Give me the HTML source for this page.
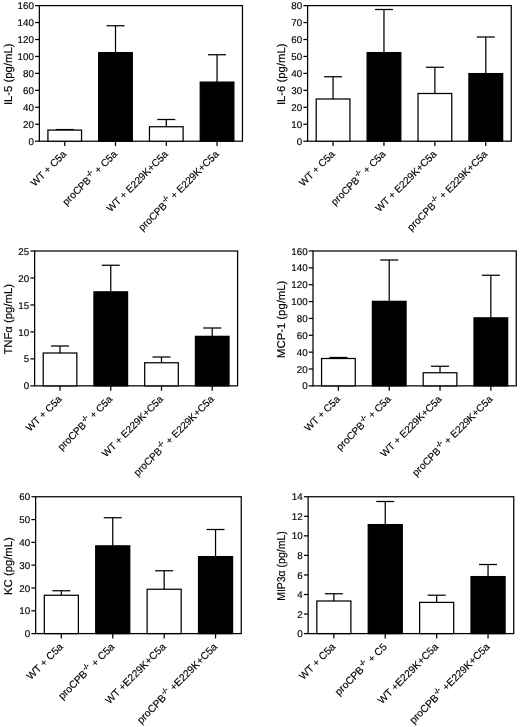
<!DOCTYPE html>
<html lang="en">
<head>
<meta charset="utf-8">
<title>Cytokine levels</title>
<style>
html,body{margin:0;padding:0;background:#fff;}
body{width:520px;height:727px;overflow:hidden;}
svg{display:block;filter:grayscale(1) blur(0.3px);}
text{font-family:"Liberation Sans",sans-serif;fill:#000;stroke:#000;stroke-width:0.15px;text-rendering:geometricPrecision;}
.tk{font-size:9.8px;text-anchor:end;}
.xl{font-size:10.1px;text-anchor:end;}
.yl{font-size:11.3px;text-anchor:middle;}
.sup{font-size:6.8px;stroke-width:0.35px;}
.ln{stroke:#000;stroke-width:1.25;fill:none;stroke-linecap:butt;}
.wb{fill:#fff;stroke:#000;stroke-width:1.25;}
.bb{fill:#000;stroke:#000;stroke-width:1.25;}
</style>
</head>
<body>
<svg width="520" height="727" viewBox="0 0 520 727">
<rect x="0" y="0" width="520" height="727" fill="#fff"/>
<g>
<rect class="ln" x="39.35" y="5.6" width="203.1" height="135.6"/>
<line class="ln" x1="35.1" y1="141.2" x2="39.35" y2="141.2"/>
<text class="tk" x="33.95" y="144.8">0</text>
<line class="ln" x1="35.1" y1="124.25" x2="39.35" y2="124.25"/>
<text class="tk" x="33.95" y="127.85">20</text>
<line class="ln" x1="35.1" y1="107.3" x2="39.35" y2="107.3"/>
<text class="tk" x="33.95" y="110.9">40</text>
<line class="ln" x1="35.1" y1="90.35" x2="39.35" y2="90.35"/>
<text class="tk" x="33.95" y="93.95">60</text>
<line class="ln" x1="35.1" y1="73.4" x2="39.35" y2="73.4"/>
<text class="tk" x="33.95" y="77">80</text>
<line class="ln" x1="35.1" y1="56.45" x2="39.35" y2="56.45"/>
<text class="tk" x="33.95" y="60.05">100</text>
<line class="ln" x1="35.1" y1="39.5" x2="39.35" y2="39.5"/>
<text class="tk" x="33.95" y="43.1">120</text>
<line class="ln" x1="35.1" y1="22.55" x2="39.35" y2="22.55"/>
<text class="tk" x="33.95" y="26.15">140</text>
<line class="ln" x1="35.1" y1="5.6" x2="39.35" y2="5.6"/>
<text class="tk" x="33.95" y="9.2">160</text>
<text class="yl" transform="translate(11.6,74.3) rotate(-90) scale(1,1)">IL-5 (pg/mL)</text>
<line class="ln" x1="64.74" y1="129.55" x2="64.74" y2="130.1"/>
<line class="ln" x1="55.74" y1="129.55" x2="73.74" y2="129.55"/>
<rect class="wb" x="47.92" y="130.1" width="33.63" height="11.1"/>
<line class="ln" x1="64.74" y1="141.2" x2="64.74" y2="146.05"/>
<text class="xl" xml:space="preserve" style="font-size:10.1px" transform="translate(67.04,154.7) rotate(-45)">WT + C5a</text>
<line class="ln" x1="115.51" y1="25.75" x2="115.51" y2="52.6"/>
<line class="ln" x1="106.51" y1="25.75" x2="124.51" y2="25.75"/>
<rect class="bb" x="98.7" y="52.6" width="33.63" height="88.6"/>
<line class="ln" x1="115.51" y1="141.2" x2="115.51" y2="146.05"/>
<text class="xl" xml:space="preserve" style="font-size:10.1px" transform="translate(117.81,154.7) rotate(-45)">proCPB<tspan class="sup" dx="0.6" dy="-4.8">-/-</tspan><tspan dx="0" dy="4.8"> + C5a</tspan></text>
<line class="ln" x1="166.29" y1="119.5" x2="166.29" y2="126.75"/>
<line class="ln" x1="157.29" y1="119.5" x2="175.29" y2="119.5"/>
<rect class="wb" x="149.47" y="126.75" width="33.63" height="14.45"/>
<line class="ln" x1="166.29" y1="141.2" x2="166.29" y2="146.05"/>
<text class="xl" xml:space="preserve" style="font-size:10.1px" transform="translate(168.59,154.7) rotate(-45)">WT + E229K+C5a</text>
<line class="ln" x1="217.06" y1="54.75" x2="217.06" y2="82.1"/>
<line class="ln" x1="208.06" y1="54.75" x2="226.06" y2="54.75"/>
<rect class="bb" x="200.25" y="82.1" width="33.63" height="59.1"/>
<line class="ln" x1="217.06" y1="141.2" x2="217.06" y2="146.05"/>
<text class="xl" xml:space="preserve" style="font-size:10.1px" transform="translate(219.36,154.7) rotate(-45)">proCPB<tspan class="sup" dx="0.6" dy="-4.8">-/-</tspan><tspan dx="0" dy="4.8"> + E229K+C5a</tspan></text>
</g>
<g>
<rect class="ln" x="307.6" y="5.6" width="203.65" height="135.6"/>
<line class="ln" x1="303.35" y1="141.2" x2="307.6" y2="141.2"/>
<text class="tk" x="302.2" y="144.8">0</text>
<line class="ln" x1="303.35" y1="124.25" x2="307.6" y2="124.25"/>
<text class="tk" x="302.2" y="127.85">10</text>
<line class="ln" x1="303.35" y1="107.3" x2="307.6" y2="107.3"/>
<text class="tk" x="302.2" y="110.9">20</text>
<line class="ln" x1="303.35" y1="90.35" x2="307.6" y2="90.35"/>
<text class="tk" x="302.2" y="93.95">30</text>
<line class="ln" x1="303.35" y1="73.4" x2="307.6" y2="73.4"/>
<text class="tk" x="302.2" y="77">40</text>
<line class="ln" x1="303.35" y1="56.45" x2="307.6" y2="56.45"/>
<text class="tk" x="302.2" y="60.05">50</text>
<line class="ln" x1="303.35" y1="39.5" x2="307.6" y2="39.5"/>
<text class="tk" x="302.2" y="43.1">60</text>
<line class="ln" x1="303.35" y1="22.55" x2="307.6" y2="22.55"/>
<text class="tk" x="302.2" y="26.15">70</text>
<line class="ln" x1="303.35" y1="5.6" x2="307.6" y2="5.6"/>
<text class="tk" x="302.2" y="9.2">80</text>
<text class="yl" transform="translate(285,74.3) rotate(-90) scale(1,1)">IL-6 (pg/mL)</text>
<line class="ln" x1="333.06" y1="76.75" x2="333.06" y2="99"/>
<line class="ln" x1="324.06" y1="76.75" x2="342.06" y2="76.75"/>
<rect class="wb" x="316.19" y="99" width="33.73" height="42.2"/>
<line class="ln" x1="333.06" y1="141.2" x2="333.06" y2="146.05"/>
<text class="xl" xml:space="preserve" style="font-size:10.1px" transform="translate(335.36,154.7) rotate(-45)">WT + C5a</text>
<line class="ln" x1="383.97" y1="9.5" x2="383.97" y2="52.6"/>
<line class="ln" x1="374.97" y1="9.5" x2="392.97" y2="9.5"/>
<rect class="bb" x="367.11" y="52.6" width="33.73" height="88.6"/>
<line class="ln" x1="383.97" y1="141.2" x2="383.97" y2="146.05"/>
<text class="xl" xml:space="preserve" style="font-size:10.1px" transform="translate(386.27,154.7) rotate(-45)">proCPB<tspan class="sup" dx="0.6" dy="-4.8">-/-</tspan><tspan dx="0" dy="4.8"> + C5a</tspan></text>
<line class="ln" x1="434.88" y1="67.25" x2="434.88" y2="93.5"/>
<line class="ln" x1="425.88" y1="67.25" x2="443.88" y2="67.25"/>
<rect class="wb" x="418.02" y="93.5" width="33.73" height="47.7"/>
<line class="ln" x1="434.88" y1="141.2" x2="434.88" y2="146.05"/>
<text class="xl" xml:space="preserve" style="font-size:10.1px" transform="translate(437.18,154.7) rotate(-45)">WT + E229K+C5a</text>
<line class="ln" x1="485.79" y1="37" x2="485.79" y2="73.6"/>
<line class="ln" x1="476.79" y1="37" x2="494.79" y2="37"/>
<rect class="bb" x="468.93" y="73.6" width="33.73" height="67.6"/>
<line class="ln" x1="485.79" y1="141.2" x2="485.79" y2="146.05"/>
<text class="xl" xml:space="preserve" style="font-size:10.1px" transform="translate(488.09,154.7) rotate(-45)">proCPB<tspan class="sup" dx="0.6" dy="-4.8">-/-</tspan><tspan dx="0" dy="4.8"> + E229K+C5a</tspan></text>
</g>
<g>
<rect class="ln" x="34.65" y="251" width="202.95" height="134.85"/>
<line class="ln" x1="30.4" y1="385.85" x2="34.65" y2="385.85"/>
<text class="tk" x="29.25" y="389.45">0</text>
<line class="ln" x1="30.4" y1="358.88" x2="34.65" y2="358.88"/>
<text class="tk" x="29.25" y="362.48">5</text>
<line class="ln" x1="30.4" y1="331.91" x2="34.65" y2="331.91"/>
<text class="tk" x="29.25" y="335.51">10</text>
<line class="ln" x1="30.4" y1="304.94" x2="34.65" y2="304.94"/>
<text class="tk" x="29.25" y="308.54">15</text>
<line class="ln" x1="30.4" y1="277.97" x2="34.65" y2="277.97"/>
<text class="tk" x="29.25" y="281.57">20</text>
<line class="ln" x1="30.4" y1="251" x2="34.65" y2="251"/>
<text class="tk" x="29.25" y="254.6">25</text>
<text class="yl" transform="translate(11.6,319.32) rotate(-90) scale(1,1)">TNFα (pg/mL)</text>
<line class="ln" x1="60.02" y1="346" x2="60.02" y2="353"/>
<line class="ln" x1="51.02" y1="346" x2="69.02" y2="346"/>
<rect class="wb" x="43.22" y="353" width="33.61" height="32.85"/>
<line class="ln" x1="60.02" y1="385.85" x2="60.02" y2="390.7"/>
<text class="xl" xml:space="preserve" style="font-size:10.1px" transform="translate(62.32,399.85) rotate(-45)">WT + C5a</text>
<line class="ln" x1="110.76" y1="265.25" x2="110.76" y2="291.85"/>
<line class="ln" x1="101.76" y1="265.25" x2="119.76" y2="265.25"/>
<rect class="bb" x="93.95" y="291.85" width="33.61" height="94"/>
<line class="ln" x1="110.76" y1="385.85" x2="110.76" y2="390.7"/>
<text class="xl" xml:space="preserve" style="font-size:10.1px" transform="translate(113.06,399.85) rotate(-45)">proCPB<tspan class="sup" dx="0.6" dy="-4.8">-/-</tspan><tspan dx="0" dy="4.8"> + C5a</tspan></text>
<line class="ln" x1="161.49" y1="357" x2="161.49" y2="362.75"/>
<line class="ln" x1="152.49" y1="357" x2="170.49" y2="357"/>
<rect class="wb" x="144.69" y="362.75" width="33.61" height="23.1"/>
<line class="ln" x1="161.49" y1="385.85" x2="161.49" y2="390.7"/>
<text class="xl" xml:space="preserve" style="font-size:10.1px" transform="translate(163.79,399.85) rotate(-45)">WT + E229K+C5a</text>
<line class="ln" x1="212.23" y1="328" x2="212.23" y2="336.35"/>
<line class="ln" x1="203.23" y1="328" x2="221.23" y2="328"/>
<rect class="bb" x="195.43" y="336.35" width="33.61" height="49.5"/>
<line class="ln" x1="212.23" y1="385.85" x2="212.23" y2="390.7"/>
<text class="xl" xml:space="preserve" style="font-size:10.1px" transform="translate(214.53,399.85) rotate(-45)">proCPB<tspan class="sup" dx="0.6" dy="-4.8">-/-</tspan><tspan dx="0" dy="4.8"> + E229K+C5a</tspan></text>
</g>
<g>
<rect class="ln" x="313" y="251" width="203.25" height="134.85"/>
<line class="ln" x1="308.75" y1="385.85" x2="313" y2="385.85"/>
<text class="tk" x="307.6" y="389.45">0</text>
<line class="ln" x1="308.75" y1="368.99" x2="313" y2="368.99"/>
<text class="tk" x="307.6" y="372.59">20</text>
<line class="ln" x1="308.75" y1="352.14" x2="313" y2="352.14"/>
<text class="tk" x="307.6" y="355.74">40</text>
<line class="ln" x1="308.75" y1="335.28" x2="313" y2="335.28"/>
<text class="tk" x="307.6" y="338.88">60</text>
<line class="ln" x1="308.75" y1="318.43" x2="313" y2="318.43"/>
<text class="tk" x="307.6" y="322.03">80</text>
<line class="ln" x1="308.75" y1="301.57" x2="313" y2="301.57"/>
<text class="tk" x="307.6" y="305.17">100</text>
<line class="ln" x1="308.75" y1="284.71" x2="313" y2="284.71"/>
<text class="tk" x="307.6" y="288.31">120</text>
<line class="ln" x1="308.75" y1="267.86" x2="313" y2="267.86"/>
<text class="tk" x="307.6" y="271.46">140</text>
<line class="ln" x1="308.75" y1="251" x2="313" y2="251"/>
<text class="tk" x="307.6" y="254.6">160</text>
<text class="yl" transform="translate(284.8,319.32) rotate(-90) scale(1,1)">MCP-1 (pg/mL)</text>
<line class="ln" x1="338.41" y1="357.5" x2="338.41" y2="358.5"/>
<line class="ln" x1="329.41" y1="357.5" x2="347.41" y2="357.5"/>
<rect class="wb" x="321.58" y="358.5" width="33.66" height="27.35"/>
<line class="ln" x1="338.41" y1="385.85" x2="338.41" y2="390.7"/>
<text class="xl" xml:space="preserve" style="font-size:10.1px" transform="translate(340.71,399.85) rotate(-45)">WT + C5a</text>
<line class="ln" x1="389.22" y1="260" x2="389.22" y2="301.35"/>
<line class="ln" x1="380.22" y1="260" x2="398.22" y2="260"/>
<rect class="bb" x="372.39" y="301.35" width="33.66" height="84.5"/>
<line class="ln" x1="389.22" y1="385.85" x2="389.22" y2="390.7"/>
<text class="xl" xml:space="preserve" style="font-size:10.1px" transform="translate(391.52,399.85) rotate(-45)">proCPB<tspan class="sup" dx="0.6" dy="-4.8">-/-</tspan><tspan dx="0" dy="4.8"> + C5a</tspan></text>
<line class="ln" x1="440.03" y1="366.25" x2="440.03" y2="372.75"/>
<line class="ln" x1="431.03" y1="366.25" x2="449.03" y2="366.25"/>
<rect class="wb" x="423.2" y="372.75" width="33.66" height="13.1"/>
<line class="ln" x1="440.03" y1="385.85" x2="440.03" y2="390.7"/>
<text class="xl" xml:space="preserve" style="font-size:10.1px" transform="translate(442.33,399.85) rotate(-45)">WT + E229K+C5a</text>
<line class="ln" x1="490.84" y1="275.25" x2="490.84" y2="317.85"/>
<line class="ln" x1="481.84" y1="275.25" x2="499.84" y2="275.25"/>
<rect class="bb" x="474.01" y="317.85" width="33.66" height="68"/>
<line class="ln" x1="490.84" y1="385.85" x2="490.84" y2="390.7"/>
<text class="xl" xml:space="preserve" style="font-size:10.1px" transform="translate(493.14,399.85) rotate(-45)">proCPB<tspan class="sup" dx="0.6" dy="-4.8">-/-</tspan><tspan dx="0" dy="4.8"> + E229K+C5a</tspan></text>
</g>
<g>
<rect class="ln" x="35.65" y="496.75" width="205.6" height="136.85"/>
<line class="ln" x1="31.4" y1="633.6" x2="35.65" y2="633.6"/>
<text class="tk" x="30.25" y="637.2">0</text>
<line class="ln" x1="31.4" y1="610.79" x2="35.65" y2="610.79"/>
<text class="tk" x="30.25" y="614.39">10</text>
<line class="ln" x1="31.4" y1="587.98" x2="35.65" y2="587.98"/>
<text class="tk" x="30.25" y="591.58">20</text>
<line class="ln" x1="31.4" y1="565.17" x2="35.65" y2="565.17"/>
<text class="tk" x="30.25" y="568.77">30</text>
<line class="ln" x1="31.4" y1="542.37" x2="35.65" y2="542.37"/>
<text class="tk" x="30.25" y="545.97">40</text>
<line class="ln" x1="31.4" y1="519.56" x2="35.65" y2="519.56"/>
<text class="tk" x="30.25" y="523.16">50</text>
<line class="ln" x1="31.4" y1="496.75" x2="35.65" y2="496.75"/>
<text class="tk" x="30.25" y="500.35">60</text>
<text class="yl" transform="translate(11.6,566.07) rotate(-90) scale(1,1)">KC (pg/mL)</text>
<line class="ln" x1="61.35" y1="590.75" x2="61.35" y2="595.25"/>
<line class="ln" x1="52.35" y1="590.75" x2="70.35" y2="590.75"/>
<rect class="wb" x="44.32" y="595.25" width="34.06" height="38.35"/>
<line class="ln" x1="61.35" y1="633.6" x2="61.35" y2="638.45"/>
<text class="xl" xml:space="preserve" style="font-size:10.3px" transform="translate(63.65,647.5) rotate(-45)">WT + C5a</text>
<line class="ln" x1="112.75" y1="517.75" x2="112.75" y2="545.85"/>
<line class="ln" x1="103.75" y1="517.75" x2="121.75" y2="517.75"/>
<rect class="bb" x="95.72" y="545.85" width="34.06" height="87.75"/>
<line class="ln" x1="112.75" y1="633.6" x2="112.75" y2="638.45"/>
<text class="xl" xml:space="preserve" style="font-size:10.3px" transform="translate(115.05,647.5) rotate(-45)">proCPB<tspan class="sup" dx="0.8" dy="-4.8">-/-</tspan><tspan dx="0.5" dy="4.8"> + C5a</tspan></text>
<line class="ln" x1="164.15" y1="570.75" x2="164.15" y2="589.25"/>
<line class="ln" x1="155.15" y1="570.75" x2="173.15" y2="570.75"/>
<rect class="wb" x="147.12" y="589.25" width="34.06" height="44.35"/>
<line class="ln" x1="164.15" y1="633.6" x2="164.15" y2="638.45"/>
<text class="xl" xml:space="preserve" style="font-size:10.3px" transform="translate(166.45,647.5) rotate(-45)">WT +E229K+C5a</text>
<line class="ln" x1="215.55" y1="529.5" x2="215.55" y2="556.6"/>
<line class="ln" x1="206.55" y1="529.5" x2="224.55" y2="529.5"/>
<rect class="bb" x="198.52" y="556.6" width="34.06" height="77"/>
<line class="ln" x1="215.55" y1="633.6" x2="215.55" y2="638.45"/>
<text class="xl" xml:space="preserve" style="font-size:10.3px" transform="translate(217.85,647.5) rotate(-45)">proCPB<tspan class="sup" dx="0.8" dy="-4.8">-/-</tspan><tspan dx="0.5" dy="4.8"> +E229K+C5a</tspan></text>
</g>
<g>
<rect class="ln" x="308.15" y="496.75" width="205.6" height="136.85"/>
<line class="ln" x1="303.9" y1="633.6" x2="308.15" y2="633.6"/>
<text class="tk" x="302.75" y="637.2">0</text>
<line class="ln" x1="303.9" y1="614.05" x2="308.15" y2="614.05"/>
<text class="tk" x="302.75" y="617.65">2</text>
<line class="ln" x1="303.9" y1="594.5" x2="308.15" y2="594.5"/>
<text class="tk" x="302.75" y="598.1">4</text>
<line class="ln" x1="303.9" y1="574.95" x2="308.15" y2="574.95"/>
<text class="tk" x="302.75" y="578.55">6</text>
<line class="ln" x1="303.9" y1="555.4" x2="308.15" y2="555.4"/>
<text class="tk" x="302.75" y="559">8</text>
<line class="ln" x1="303.9" y1="535.85" x2="308.15" y2="535.85"/>
<text class="tk" x="302.75" y="539.45">10</text>
<line class="ln" x1="303.9" y1="516.3" x2="308.15" y2="516.3"/>
<text class="tk" x="302.75" y="519.9">12</text>
<line class="ln" x1="303.9" y1="496.75" x2="308.15" y2="496.75"/>
<text class="tk" x="302.75" y="500.35">14</text>
<text class="yl" transform="translate(284.6,566.07) rotate(-90) scale(0.928,1)">MIP3α (pg/mL)</text>
<line class="ln" x1="333.85" y1="593.75" x2="333.85" y2="601"/>
<line class="ln" x1="324.85" y1="593.75" x2="342.85" y2="593.75"/>
<rect class="wb" x="316.82" y="601" width="34.06" height="32.6"/>
<line class="ln" x1="333.85" y1="633.6" x2="333.85" y2="638.45"/>
<text class="xl" xml:space="preserve" style="font-size:10.3px" transform="translate(336.15,647.5) rotate(-45)">WT + C5a</text>
<line class="ln" x1="385.25" y1="501.5" x2="385.25" y2="524.6"/>
<line class="ln" x1="376.25" y1="501.5" x2="394.25" y2="501.5"/>
<rect class="bb" x="368.22" y="524.6" width="34.06" height="109"/>
<line class="ln" x1="385.25" y1="633.6" x2="385.25" y2="638.45"/>
<text class="xl" xml:space="preserve" style="font-size:10.3px" transform="translate(387.55,647.5) rotate(-45)">proCPB<tspan class="sup" dx="0.8" dy="-4.8">-/-</tspan><tspan dx="0.5" dy="4.8"> + C5</tspan></text>
<line class="ln" x1="436.65" y1="595.2" x2="436.65" y2="602.4"/>
<line class="ln" x1="427.65" y1="595.2" x2="445.65" y2="595.2"/>
<rect class="wb" x="419.62" y="602.4" width="34.06" height="31.2"/>
<line class="ln" x1="436.65" y1="633.6" x2="436.65" y2="638.45"/>
<text class="xl" xml:space="preserve" style="font-size:10.3px" transform="translate(438.95,647.5) rotate(-45)">WT +E229K+C5a</text>
<line class="ln" x1="488.05" y1="564.5" x2="488.05" y2="576.6"/>
<line class="ln" x1="479.05" y1="564.5" x2="497.05" y2="564.5"/>
<rect class="bb" x="471.02" y="576.6" width="34.06" height="57"/>
<line class="ln" x1="488.05" y1="633.6" x2="488.05" y2="638.45"/>
<text class="xl" xml:space="preserve" style="font-size:10.3px" transform="translate(490.35,647.5) rotate(-45)">proCPB<tspan class="sup" dx="0.8" dy="-4.8">-/-</tspan><tspan dx="0.5" dy="4.8"> +E229K+C5a</tspan></text>
</g>
</svg>
</body>
</html>
